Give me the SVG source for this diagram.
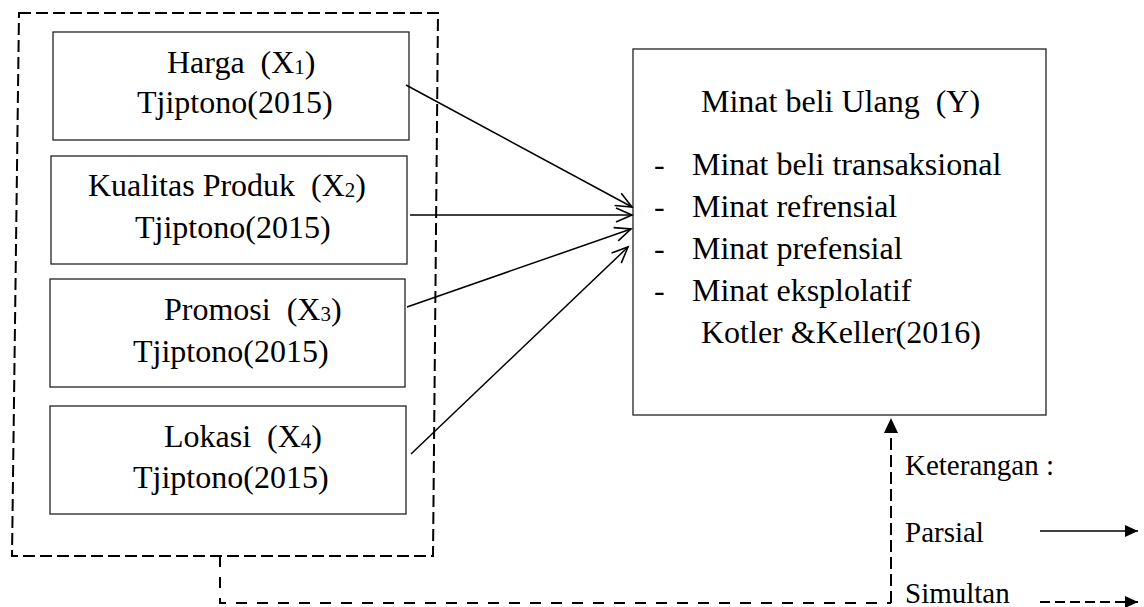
<svg xmlns="http://www.w3.org/2000/svg" width="1144" height="607" viewBox="0 0 1144 607">
<style>
text{font-family:"Liberation Serif","Times New Roman",serif;font-size:32px;fill:#000;white-space:pre}
.leg{font-size:29px}
.box{fill:#fff;stroke:#222;stroke-width:1.3}
.ln{fill:none;stroke:#000;stroke-width:1.5}
.dash{fill:none;stroke:#000;stroke-width:2;stroke-dasharray:12 5}
.dash2{fill:none;stroke:#000;stroke-width:2;stroke-dasharray:11 10}
.sub{font-size:21px}
</style>
<defs>
<marker id="open" markerUnits="userSpaceOnUse" markerWidth="20" markerHeight="20" refX="17" refY="8" orient="auto" viewBox="0 0 20 16">
<path d="M1,1 L17,8 L1,15" fill="none" stroke="#000" stroke-width="1.6"/>
</marker>
<marker id="fill" markerUnits="userSpaceOnUse" markerWidth="14" markerHeight="14" refX="13" refY="6" orient="auto" viewBox="0 0 14 12">
<path d="M0,0 L13,6 L0,12 Z" fill="#000"/>
</marker>
<marker id="fillbig" markerUnits="userSpaceOnUse" markerWidth="16" markerHeight="16" refX="15" refY="7" orient="auto" viewBox="0 0 16 14">
<path d="M0,0 L15,7 L0,14 Z" fill="#000"/>
</marker>
</defs>
<rect width="1144" height="607" fill="#fff"/>
<g id="group-x">
<path class="dash" d="M19,13 L438,13 L433,556 L12,556 Z"/>
</g>
<g id="x1">
<rect class="box" x="53" y="32" width="356" height="108"/>
<text x="167" y="73">Harga  (X<tspan class="sub" dy="1">1</tspan><tspan dy="-1">)</tspan></text>
<text x="137" y="113">Tjiptono(2015)</text>
</g>
<g id="x2">
<rect class="box" x="51" y="156" width="356" height="108"/>
<text x="88" y="196">Kualitas Produk  (X<tspan class="sub" dy="1">2</tspan><tspan dy="-1">)</tspan></text>
<text x="135" y="238">Tjiptono(2015)</text>
</g>
<g id="x3">
<rect class="box" x="50" y="279" width="355" height="108"/>
<text x="164" y="320">Promosi  (X<tspan class="sub" dy="1">3</tspan><tspan dy="-1">)</tspan></text>
<text x="133" y="362">Tjiptono(2015)</text>
</g>
<g id="x4">
<rect class="box" x="50" y="406" width="356" height="108"/>
<text x="164" y="447">Lokasi  (X<tspan class="sub" dy="1">4</tspan><tspan dy="-1">)</tspan></text>
<text x="133" y="488">Tjiptono(2015)</text>
</g>
<g id="y">
<rect class="box" x="633" y="49" width="413" height="366"/>
<text x="701" y="112">Minat beli Ulang  (Y)</text>
<text x="654" y="175">-</text><text x="692" y="175">Minat beli transaksional</text>
<text x="654" y="217">-</text><text x="692" y="217">Minat refrensial</text>
<text x="654" y="259">-</text><text x="692" y="259">Minat prefensial</text>
<text x="654" y="301">-</text><text x="692" y="301">Minat eksplolatif</text>
<text x="701" y="343">Kotler &amp;Keller(2016)</text>
</g>
<g id="connectors">
<line class="ln" x1="406" y1="85" x2="632" y2="207" marker-end="url(#open)"/>
<line class="ln" x1="410" y1="215" x2="632" y2="215" marker-end="url(#open)"/>
<line class="ln" x1="407" y1="307" x2="631" y2="229" marker-end="url(#open)"/>
<line class="ln" x1="411" y1="454" x2="628" y2="247" marker-end="url(#open)"/>
<path class="dash2" d="M220,556 L220,603 L891,603"/>
<path class="dash" d="M891,603 L891,418" marker-end="url(#fillbig)"/>
</g>
<g id="legend">
<text class="leg" x="905" y="475">Keterangan :</text>
<text class="leg" x="905" y="542">Parsial</text>
<line class="ln" x1="1040" y1="531" x2="1138" y2="531" marker-end="url(#fill)"/>
<text class="leg" x="905" y="603">Simultan</text>
<line class="dash" x1="1040" y1="602" x2="1138" y2="602" style="stroke-dasharray:10 5" marker-end="url(#fill)"/>
</g>
</svg>
